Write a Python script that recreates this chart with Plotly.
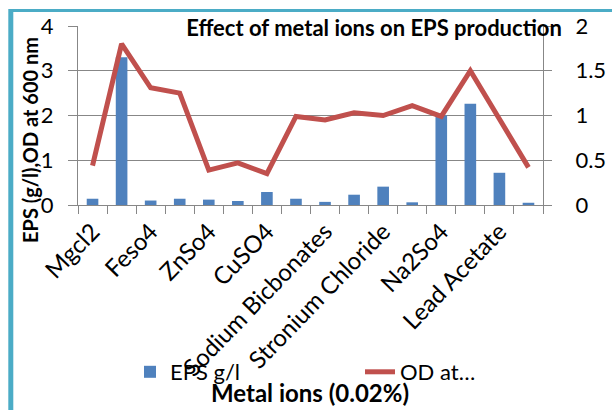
import plotly.graph_objects as go

# Metal ion treatments (only every other category carries a visible label)
label_positions = [1, 3, 5, 7, 9, 11, 13, 15]
metal_ion_labels = ["Mgcl2", "Feso4", "ZnSo4", "CuSO4", "Sodium Bicbonates",
                    "Stronium Chloride", "Na2So4", "Lead Acetate"]
sample_no = [1, 2, 3, 4, 5, 6, 7, 8, 9, 10, 11, 12, 13, 14, 15, 16]

# EPS yield (g/l) per treatment
eps_g_per_l = [0.14, 3.30, 0.10, 0.14, 0.12, 0.09, 0.29, 0.14,
               0.07, 0.23, 0.41, 0.06, 2.00, 2.26, 0.72, 0.05]
# Optical density at 600 nm per treatment
od_600 = [0.44, 1.80, 1.31, 1.25, 0.39, 0.47, 0.35, 0.99,
          0.95, 1.03, 1.00, 1.11, 0.99, 1.50, 0.96, 0.42]

W, H = 612, 410
L, R, T, B = 78, 543, 26, 205  # plot area edges in pixels
FONT = "Lato"
GRID = "#878787"
BAR = "#4F81BD"
LINE = "#C0504D"
FRAME = "#4BACC6"


def px_x(p):
    return (p - L) / (R - L)


def px_y(p):
    return (B - p) / (B - T)


fig = go.Figure()
fig.add_trace(go.Bar(
    x=sample_no, y=eps_g_per_l, name="EPS g/l", legend="legend",
    marker=dict(color=BAR, line=dict(width=0)), width=0.4,
))
fig.add_trace(go.Scatter(
    x=sample_no, y=od_600, name="OD at…", yaxis="y2", mode="lines",
    legend="legend2", line=dict(color=LINE, width=5),
))

legend_common = dict(orientation="h", xanchor="left", yanchor="middle",
                     y=px_y(372), font=dict(size=22),
                     bgcolor="rgba(0,0,0,0)")

fig.update_layout(
    width=W, height=H,
    margin=dict(l=L, r=W - R, t=T, b=H - B),
    paper_bgcolor="white", plot_bgcolor="white",
    font=dict(family=FONT, size=20, color="black"),
    xaxis=dict(
        range=[0.5, 16.5], tickmode="array", tickvals=label_positions,
        ticktext=metal_ion_labels, tickangle=-46, ticks="",
        showgrid=False, zeroline=False, showline=True, linecolor=GRID,
        linewidth=1, tickfont=dict(size=24), ticklabelstandoff=2,
        minor=dict(tick0=0.5, dtick=1, ticks="outside", ticklen=8,
                   tickcolor=GRID, tickwidth=1, showgrid=False),
        automargin=False,
    ),
    yaxis=dict(
        range=[0, 4], dtick=1, ticks="outside", ticklen=9, tickcolor=GRID,
        showgrid=True, gridcolor=GRID, gridwidth=1, zeroline=False,
        showline=True, linecolor=GRID, tickfont=dict(size=22),
        ticklabelstandoff=10, automargin=False,
    ),
    yaxis2=dict(
        range=[0, 2], dtick=0.5, overlaying="y", side="right",
        ticks="outside", ticklen=8, tickcolor=GRID, showgrid=False,
        zeroline=False, showline=True, linecolor=GRID,
        tickfont=dict(size=22), ticklabelstandoff=19, automargin=False,
    ),
    showlegend=True,
    legend=dict(x=px_x(130), **legend_common),
    legend2=dict(x=px_x(360), **legend_common),
    title=dict(
        text="<b>Effect of metal ions on EPS production</b>",
        x=374 / W, xref="container", xanchor="center",
        y=1 - 28 / H, yanchor="middle", font=dict(size=22),
    ),
    annotations=[
        dict(text="<b>Metal ions (0.02%)</b>", xref="paper", yref="paper",
             x=px_x(310), y=px_y(392), showarrow=False,
             font=dict(size=24), xanchor="center", yanchor="middle"),
        dict(text="<b>EPS (g/l),OD at 600 nm</b>", xref="paper", yref="paper",
             x=px_x(30), y=px_y(140), showarrow=False, textangle=-90,
             font=dict(size=20), xanchor="center", yanchor="middle"),
    ],
    shapes=[
        dict(type="line", xref="paper", yref="paper",
             x0=px_x(10), x1=px_x(W + 2), y0=px_y(10.5), y1=px_y(10.5),
             line=dict(color=FRAME, width=3)),
        dict(type="line", xref="paper", yref="paper",
             x0=px_x(10.8), x1=px_x(10.8), y0=px_y(9), y1=px_y(H + 2),
             line=dict(color=FRAME, width=5)),
    ],
)

fig.write_html("out.html")
